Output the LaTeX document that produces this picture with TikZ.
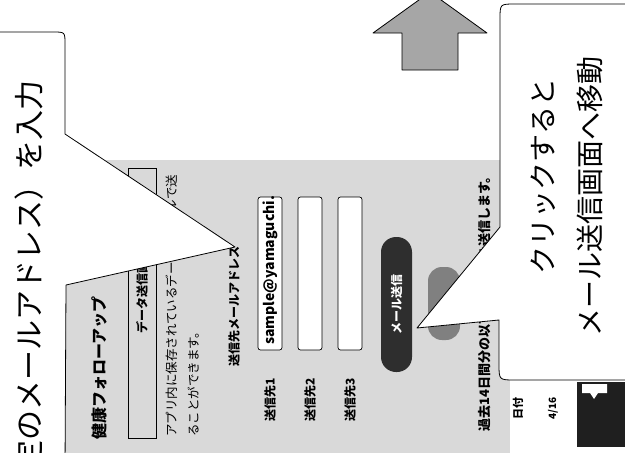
\documentclass[tikz,border=0pt]{standalone}
\usepackage{fontspec}
\newfontfamily\jpfont{Noto Sans CJK JP}
\usepackage{tikz}

\begin{document}
\begin{tikzpicture}[x=1pt,y=-1pt,
		vtext/.style={rotate=90,inner sep=0pt,anchor=west,
			font=\jpfont\bfseries\fontsize{12}{14}\selectfont},
		calltext/.style={rotate=90,inner sep=0pt,
			font=\jpfont\fontsize{28}{32}\selectfont},
		callout/.style={draw,fill=white,line width=0.8pt,line join=round},
		field/.style={draw,fill=white,rounded corners=2.5pt,line width=0.7pt},
		screen/.style={fill=black!15}
	]
	\useasboundingbox (0,0) rectangle (625,453);
	\clip (0,0) rectangle (625,453);

	\fill[screen] (65,160) rectangle (510,453);

	\node[vtext,font=\jpfont\bfseries\fontsize{16}{18}\selectfont] (title) at (99,440) {健康フォローアップ};
	\draw[line width=0.7pt] (128,168) rectangle (156,438);
	\node[vtext] (sendscreen) at (142,334) {データ送信画面};
	\node[vtext,font=\jpfont\fontsize{12.5}{14}\selectfont] (desc1) at (172,437) {アプリ内に保存されているデータをメールで送};
	\node[vtext,font=\jpfont\fontsize{12.5}{14}\selectfont] (desc2) at (194,437) {ることができます。};
	\node[vtext] (addrhead) at (234,367) {送信先メールアドレス};

	\node[vtext] (to1) at (270,422) {送信先1};
	\node[vtext] (to2) at (310,422) {送信先2};
	\node[vtext] (to3) at (350,422) {送信先3};
	\draw[field] (258,197) rectangle (282,350);
	\draw[field] (298,197) rectangle (322,350);
	\draw[field] (338,197) rectangle (362,350);
	\node[vtext,font=\jpfont\bfseries\fontsize{14}{16}\selectfont] (addr1) at (270,345) {sample@yamaguchi.};

	\fill[black!82,rounded corners=15pt] (381,237) rectangle (412,372);
	\node[vtext,anchor=center,text=white] (sendbtn) at (396.5,304) {メール送信};
	\fill[black!50,rounded corners=14pt] (428,267) rectangle (460,340);

	\node[vtext,font=\jpfont\bfseries\fontsize{13}{15}\selectfont] (period) at (484,432) {過去14日間分の以下のデータを送信します。};
	\node[vtext,font=\jpfont\bfseries\fontsize{11}{13}\selectfont] (datehead) at (518,420) {日付};
	\node[vtext,font=\jpfont\bfseries\fontsize{10}{12}\selectfont] (date1) at (553,420) {4/16};

	\fill[black!88] (577,382) rectangle (625,447);
	\fill[white] (582,384) -- (607,384) -- (607,393) -- (598,393)
		-- (594,399) -- (590,393) -- (582,393) -- cycle;

	\draw[line width=0.8pt,fill=black!35,line join=round]
		(402,70) -- (402,33) -- (373,33) -- (430,-8) -- (487,33)
		-- (458,33) -- (458,70) -- cycle;

	\draw[callout]
		(-20,32) -- (53,32) .. controls (65,32) .. (65,44)
		-- (65,134) -- (235,247) -- (66,285) -- (65,470) -- (-20,470) -- cycle;
	\node[calltext,anchor=east,font=\jpfont\fontsize{30}{34}\selectfont] (inputnote) at (29,80) {定のメールアドレス）を入力};

	\draw[callout]
		(640,4) -- (515,4) .. controls (500,4) .. (500,19)
		-- (500,227) -- (417,328) -- (499,320) -- (499,364)
		.. controls (499,380) .. (515,380) -- (640,380) -- cycle;
	\node[calltext] (clicknote) at (543,176) {クリックすると};
	\node[calltext] (movenote) at (590,196) {メール送信画面へ移動};
\end{tikzpicture}
\end{document}
